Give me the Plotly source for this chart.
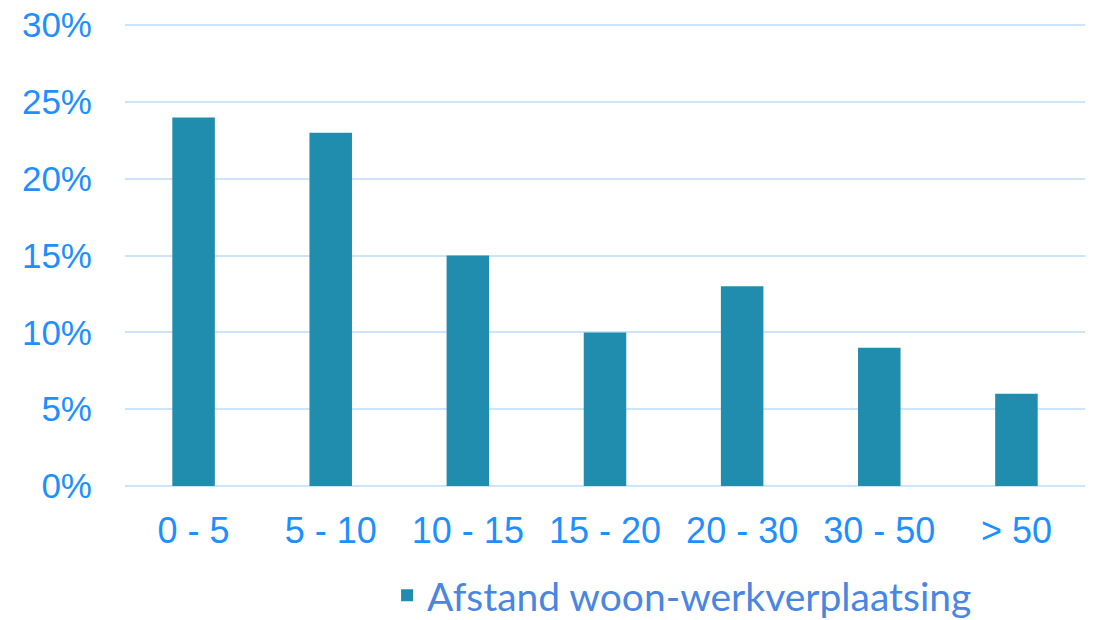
import plotly.graph_objects as go

categories = ["0 - 5", "5 - 10", "10 - 15", "15 - 20", "20 - 30", "30 - 50", "> 50"]
values = [0.24, 0.23, 0.15, 0.10, 0.13, 0.09, 0.06]
series_name = "Afstand woon-werkverplaatsing"
y_ticks = [0, 0.05, 0.10, 0.15, 0.20, 0.25, 0.30]

fig = go.Figure()
fig.add_trace(go.Bar(
    x=categories, y=values, name=series_name,
    marker=dict(color="#208DAE", line=dict(width=0)),
    showlegend=True,
))

fig.update_layout(
    width=1099, height=620,
    margin=dict(l=125, r=14, t=24, b=134, autoexpand=False),
    paper_bgcolor="white", plot_bgcolor="white",
    bargap=0.69,
    font=dict(family="Liberation Sans, Arial, sans-serif", color="#1E8FFF"),
    showlegend=True,
    legend=dict(
        orientation="h", x=0.273, xanchor="left", y=-0.237, yanchor="middle",
        font=dict(family="Lato, sans-serif", size=39, color="#4A86E0"),
        bgcolor="rgba(0,0,0,0)", borderwidth=0,
    ),
)
fig.update_yaxes(
    range=[0, 0.3008], tickvals=y_ticks, tickformat=".0%",
    showgrid=True, gridcolor="#CDE5FB", gridwidth=2,
    zeroline=True, zerolinecolor="#CDE5FB", zerolinewidth=2,
    showline=False, ticks="", ticklabelstandoff=32,
    ticklabeloverflow="allow",
    tickfont=dict(size=35, color="#1E8FFF"),
)
fig.update_xaxes(
    showgrid=False, showline=False, ticks="", ticklabelstandoff=20,
    tickfont=dict(size=36, color="#1E8FFF"),
)

fig.write_html("out.html", config={"displayModeBar": False},
               post_script="document.body.style.margin='0';")
